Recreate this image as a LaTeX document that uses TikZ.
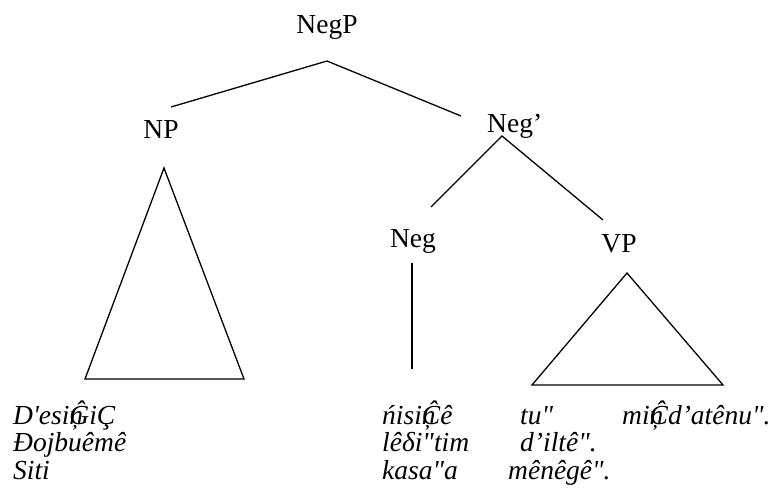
\documentclass[tikz,border=0pt]{standalone}
\usepackage{fontspec}
\setmainfont{Liberation Serif}[Ligatures=TeXOff]

\tikzset{
  cat/.style={font=\fontsize{27.5}{30}\selectfont, anchor=base, inner sep=0pt},
  gloss/.style={font=\fontsize{27.5}{30}\selectfont\itshape, anchor=base west, inner sep=0pt},
  branch/.style={line width=1.3pt},
}
\newcommand\ovl[2]{\rlap{#1}#2}

\begin{document}
\begin{tikzpicture}[x=1pt,y=-1pt]
        \useasboundingbox (0,0) rectangle (778,498);
        % categories
        \node[cat] (negp) at (327,33) {NegP};
        \node[cat] (np) at (161,138) {NP};
        \node[cat,anchor=base west] (negbar) at (487,132) {Neg’};
        \node[cat] (neg) at (413,247) {Neg};
        \node[cat] (vp) at (619,252) {VP};
        % branch ends
        \coordinate (negp-b) at (327,61);
        \coordinate (np-t) at (171,107);
        \coordinate (negbar-t) at (461,116);
        \coordinate (negbar-b) at (502,136);
        \coordinate (neg-t) at (431,207);
        \coordinate (vp-t) at (603,220);
        \draw[branch] (np-t) -- (negp-b) -- (negbar-t);
        \draw[branch] (neg-t) -- (negbar-b) -- (vp-t);
        % NP triangle
        \coordinate (npA) at (164,168);
        \coordinate (npL) at (85,379);
        \coordinate (npR) at (244,379);
        \draw[branch] (npA) -- (npL) -- (npR) -- cycle;
        % Neg stem
        \coordinate (neg-s) at (412,263);
        \coordinate (neg-e) at (412,369);
        \draw[branch] (neg-s) -- (neg-e);
        % VP triangle
        \coordinate (vpA) at (627,273);
        \coordinate (vpL) at (532,385);
        \coordinate (vpR) at (723,385);
        \draw[branch] (vpA) -- (vpL) -- (vpR) -- cycle;
        % words
        \node[gloss] (w11) at (13,424) {D'esi\ovl{ņ}{Ĝ}iÇ};
        \node[gloss] (w12) at (382,424) {ńisi\ovl{ņ}{Ĉ}ê};
        \node[gloss] (w13) at (520,424) {tu"};
        \node[gloss] (w14) at (622,424) {mi\ovl{ņ}{Ĉ}d’atênu".};
        \node[gloss] (w21) at (13,451) {Đojbuêmê};
        \node[gloss] (w22) at (382,451) {lêδi"tim};
        \node[gloss] (w23) at (520,451) {d’iltê".};
        \node[gloss] (w31) at (13,479) {Siti};
        \node[gloss] (w32) at (382,479) {kasa"a};
        \node[gloss] (w33) at (508,479) {mênêgê".};
\end{tikzpicture}
\end{document}
